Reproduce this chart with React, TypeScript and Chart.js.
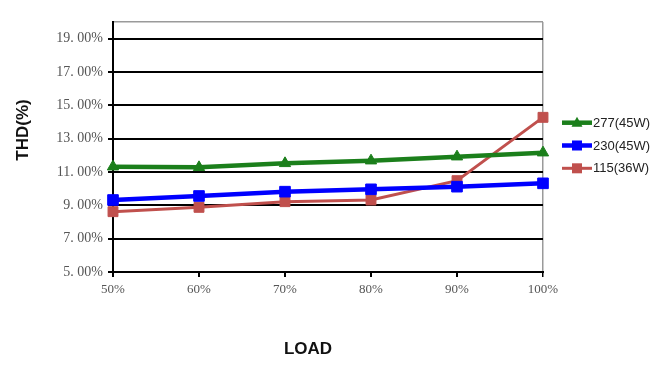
import React, { useEffect, useRef } from "react";
import { Chart, registerables } from "chart.js";

Chart.register(...registerables);

const categories = ["50%", "60%", "70%", "80%", "90%", "100%"];
const series277 = [11.32, 11.28, 11.52, 11.68, 11.92, 12.16];
const series230 = [9.32, 9.56, 9.82, 9.96, 10.12, 10.32];
const series115 = [8.62, 8.88, 9.22, 9.32, 10.48, 14.28];
const seriesNames = ["277(45W)", "230(45W)", "115(36W)"];
const yTickValues = [5, 7, 9, 11, 13, 15, 17, 19];
const yMax = 20;
const xTitle = "LOAD";
const yTitle = "THD(%)";

const GREEN = "#1b7f1b";
const BLUE = "#0000ff";
const RED = "#c0504d";

const titlesPlugin = {
  id: "customTitles",
  afterDraw(chart: any) {
    const { ctx, chartArea } = chart;
    ctx.save();
    ctx.fillStyle = "#111";
    ctx.font = "bold 17px 'Liberation Sans', Arial, sans-serif";
    ctx.textAlign = "center";
    ctx.textBaseline = "middle";
    ctx.fillText(xTitle, (chartArea.left + chartArea.right) / 2 - 20, 349);
    ctx.translate(23, 130);
    ctx.rotate(-Math.PI / 2);
    ctx.fillText(yTitle, 0, 0);
    ctx.restore();
  },
};

const legendPlugin = {
  id: "customLegend",
  afterDraw(chart: any) {
    const { ctx, chartArea } = chart;
    const x0 = chartArea.right + 19;
    const y0 = 122.7;
    ctx.save();
    chart.data.datasets.forEach((ds: any, i: number) => {
      const y = y0 + i * 22.8;
      ctx.strokeStyle = ds.borderColor;
      ctx.lineWidth = ds.borderWidth;
      ctx.beginPath();
      ctx.moveTo(x0, y);
      ctx.lineTo(x0 + 30, y);
      ctx.stroke();
      ctx.fillStyle = ds.borderColor;
      const cx = x0 + 15;
      if (ds.pointStyle === "triangle") {
        ctx.beginPath();
        ctx.moveTo(cx, y - 6);
        ctx.lineTo(cx + 5.5, y + 4);
        ctx.lineTo(cx - 5.5, y + 4);
        ctx.closePath();
        ctx.fill();
      } else {
        ctx.fillRect(cx - 5, y - 5, 10, 10);
      }
      ctx.fillStyle = "#222";
      ctx.font = "13px 'Liberation Sans', Arial, sans-serif";
      ctx.textAlign = "left";
      ctx.textBaseline = "middle";
      ctx.fillText(ds.label, x0 + 31, y + 0.5);
    });
    ctx.restore();
  },
};

export default function App() {
  const ref = useRef<HTMLCanvasElement>(null);

  useEffect(() => {
    if (!ref.current) return;
    const chart = new Chart(ref.current, {
      type: "line",
      data: {
        labels: categories,
        datasets: [
          {
            label: seriesNames[0],
            data: series277,
            borderColor: GREEN,
            backgroundColor: GREEN,
            borderWidth: 4.5,
            pointStyle: "triangle",
            pointRadius: 6.5,
            pointBorderWidth: 1,
            tension: 0,
            clip: false as any,
          },
          {
            label: seriesNames[1],
            data: series230,
            borderColor: BLUE,
            backgroundColor: BLUE,
            borderWidth: 4.5,
            pointStyle: "rect",
            pointRadius: 7.5,
            pointBorderWidth: 1,
            tension: 0,
            clip: false as any,
          },
          {
            label: seriesNames[2],
            data: series115,
            borderColor: RED,
            backgroundColor: RED,
            borderWidth: 3,
            pointStyle: "rect",
            pointRadius: 7,
            pointBorderWidth: 1,
            tension: 0,
            clip: false as any,
          },
        ],
      },
      options: {
        animation: false,
        responsive: false,
        devicePixelRatio: 1,
        layout: { padding: { top: 22, right: 115, left: 0, bottom: 0 } },
        plugins: {
          legend: { display: false },
          tooltip: { enabled: false },
        },
        scales: {
          x: {
            type: "category",
            offset: false,
            afterFit: (scale: any) => {
              scale.height = 107;
            },
            border: { display: true, color: "#000", width: 2 },
            grid: {
              color: (c: any) => (c.index === categories.length - 1 ? "#9a9a9a" : "rgba(0,0,0,0)"),
              lineWidth: (c: any) => (c.index === categories.length - 1 ? 1.5 : 2),
              tickColor: "#000",
              tickLength: 5,
              drawOnChartArea: true,
            },
            ticks: {
              color: "#555",
              font: { family: "'Liberation Serif', 'Times New Roman', serif", size: 13 },
              padding: 5,
              maxRotation: 0,
            },
          },
          y: {
            type: "linear",
            min: yTickValues[0],
            max: yMax,
            afterFit: (scale: any) => {
              scale.width = 113;
            },
            afterBuildTicks: (scale: any) => {
              scale.ticks = [...yTickValues, yMax].map((v) => ({ value: v }));
            },
            border: { display: true, color: "#000", width: 2 },
            grid: {
              color: (c: any) => (c.tick && c.tick.value === yMax ? "#9a9a9a" : "#000"),
              lineWidth: (c: any) => (c.tick && c.tick.value === yMax ? 1.5 : 2),
              tickColor: (c: any) => (c.tick && c.tick.value === yMax ? "rgba(0,0,0,0)" : "#000"),
              tickLength: 5,
            },
            ticks: {
              color: "#555",
              font: { family: "'Liberation Serif', 'Times New Roman', serif", size: 14 },
              padding: 5,
              callback: (v: any) => (v === yMax ? "" : Number(v).toFixed(2).replace(".", ". ") + "%"),
            },
          },
        },
      },
      plugins: [titlesPlugin, legendPlugin],
    });
    return () => chart.destroy();
  }, []);

  return (
    <div style={{ position: "fixed", left: 0, top: 0, width: 658, height: 379, background: "#fff" }}>
      <canvas ref={ref} width={658} height={379} style={{ width: 658, height: 379, display: "block" }} />
    </div>
  );
}
